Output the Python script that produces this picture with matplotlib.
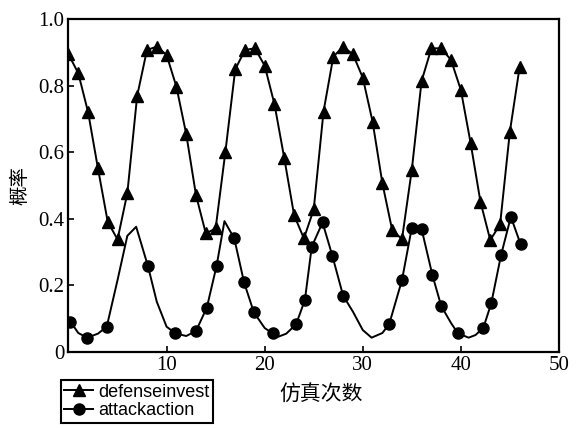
import matplotlib
matplotlib.use("Agg")
import matplotlib.pyplot as plt

plt.rcParams['font.family'] = ['Liberation Serif', 'Noto Sans CJK SC', 'DejaVu Sans']

# defenseinvest: one point per simulation run
defense_x = list(range(47))
defense_y = [0.894, 0.837, 0.720, 0.552, 0.391, 0.338, 0.477, 0.769, 0.907, 0.917,
             0.892, 0.797, 0.655, 0.471, 0.356, 0.371, 0.602, 0.849, 0.907, 0.912,
             0.860, 0.744, 0.582, 0.411, 0.341, 0.428, 0.722, 0.887, 0.917, 0.894,
             0.824, 0.692, 0.507, 0.366, 0.339, 0.547, 0.814, 0.912, 0.912, 0.877,
             0.787, 0.627, 0.451, 0.336, 0.383, 0.662, 0.857]

# attackaction: curve vertices, with a flag for the ones that carry a marker
attack_x = [0.2, 1.0, 1.9, 3.0, 3.9, 5.0, 6.0, 6.9, 8.1, 9.0, 10.0, 10.9, 12.0, 13.0,
            14.1, 15.1, 15.9, 16.9, 17.9, 18.9, 20.0, 20.8, 21.4, 22.2, 23.2, 24.1,
            24.8, 25.9, 26.9, 28.0, 29.0, 30.0, 30.9, 32.0, 32.7, 34.0, 35.0, 36.0,
            37.1, 38.0, 39.0, 39.7, 40.8, 41.5, 42.3, 43.1, 44.1, 45.1, 46.1]
attack_y = [0.091, 0.057, 0.043, 0.055, 0.076, 0.216, 0.349, 0.376, 0.258, 0.151,
            0.076, 0.056, 0.048, 0.063, 0.133, 0.259, 0.393, 0.341, 0.209, 0.119,
            0.072, 0.056, 0.046, 0.055, 0.083, 0.156, 0.316, 0.389, 0.289, 0.169,
            0.121, 0.066, 0.043, 0.057, 0.084, 0.216, 0.373, 0.369, 0.231, 0.138,
            0.087, 0.056, 0.043, 0.051, 0.073, 0.146, 0.291, 0.406, 0.323]
attack_mark = [1, 0, 1, 0, 1, 0, 0, 0, 1, 0, 0, 1, 0, 1, 1, 1, 0, 1, 1, 1, 0, 1, 0, 0,
               1, 1, 1, 1, 1, 1, 0, 0, 0, 0, 1, 1, 1, 1, 1, 1, 0, 1, 0, 0, 1, 1, 1, 1, 1]

xticks = [10, 20, 30, 40, 50]
yticks = [0, 0.2, 0.4, 0.6, 0.8, 1.0]
ytick_labels = ['0', '0.2', '0.4', '0.6', '0.8', '1.0']

fig = plt.figure(figsize=(5.78, 4.28), dpi=100)
ax = fig.add_axes([0.1185, 0.1776, 0.8485, 0.778])

ax.plot(defense_x, defense_y, color='black', lw=1.4, marker='^', ms=8,
        label='defenseinvest')
marks = [i for i, m in enumerate(attack_mark) if m]
ax.plot(attack_x, attack_y, color='black', lw=1.4, marker='o', ms=8,
        markevery=marks, label='attackaction')

ax.set_xlim(0, 50)
ax.set_ylim(0, 1.0)
ax.set_xticks(xticks)
ax.set_yticks(yticks)
ax.set_yticklabels(ytick_labels)
ax.tick_params(direction='in', length=4, width=1.2, labelsize=15, pad=3)
for s in ax.spines.values():
    s.set_linewidth(1.6)

ax.set_xlabel('仿真次数', fontsize=15, family=['Noto Sans CJK SC'])
ax.xaxis.set_label_coords(0.515, -0.095)
ax.set_ylabel('概率', fontsize=14, family=['Noto Sans CJK SC'], va='center')
ax.yaxis.set_label_coords(-0.099, 0.5)

leg = fig.legend(loc='upper left', bbox_to_anchor=(0.105, 0.112), frameon=True,
                 fancybox=False, edgecolor='black', framealpha=1,
                 prop={'family': 'Liberation Sans', 'size': 13},
                 handlelength=1.6, handletextpad=0.3, borderpad=0.2,
                 labelspacing=0.1, borderaxespad=0)
leg.get_frame().set_linewidth(1.5)

fig.savefig('out.png', dpi=100)
